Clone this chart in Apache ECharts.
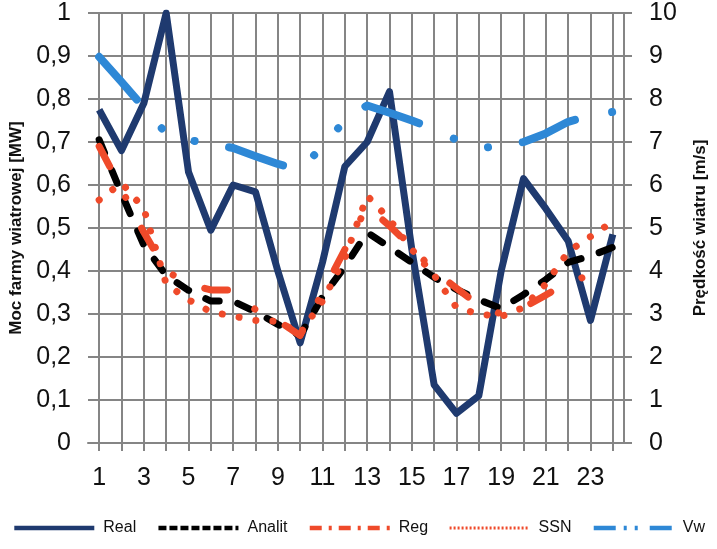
<!DOCTYPE html>
<html><head><meta charset="utf-8">
<script src="https://cdn.jsdelivr.net/npm/echarts@6/dist/echarts.min.js"></script>
<style>html,body{margin:0;padding:0;background:#fff}#c{width:717px;height:549px}</style>
</head><body><div id="c"></div>
<script>
const hours = ['1','2','3','4','5','6','7','8','9','10','11','12','13','14','15','16','17','18','19','20','21','22','23','24'];
const real   = [0.775,0.68,0.79,1.0,0.63,0.495,0.60,0.584,0.40,0.233,0.42,0.643,0.70,0.817,0.45,0.135,0.069,0.11,0.40,0.615,0.545,0.47,0.285,0.485];
const analit = [0.705,0.58,0.46,0.39,0.355,0.33,0.33,0.305,0.276,0.25,0.34,0.41,0.49,0.455,0.42,0.385,0.357,0.333,0.313,0.345,0.38,0.42,0.435,0.455];
const reg    = [0.69,0.59,0.49,0.40,0.37,0.356,0.356,0.31,0.285,0.25,0.35,0.45,0.55,0.505,0.455,0.40,0.36,0.32,0.30,0.315,0.344,0.375,0.39,0.40];
const ssn    = [0.565,0.605,0.545,0.37,0.333,0.305,0.295,0.285,0.283,0.255,0.33,0.43,0.575,0.52,0.45,0.39,0.315,0.30,0.294,0.315,0.37,0.445,0.48,0.515];
const vw     = [8.98,8.4,7.8,7.2,7.05,6.95,6.86,6.67,6.49,6.35,6.9,7.5,7.85,7.68,7.5,7.3,7.05,6.85,6.92,7.0,7.2,7.47,7.62,7.7];
const powerTicks = ['0','0,1','0,2','0,3','0,4','0,5','0,6','0,7','0,8','0,9','1'];
const windTicks  = ['0','1','2','3','4','5','6','7','8','9','10'];

const FONT = 'Liberation Sans, Arial, sans-serif';
const GRID = '#858585';
const NAVY = '#1f3a6f', RED = '#ef4a2a', BLUE = '#2e88d6';

const chart = echarts.init(document.getElementById('c'), null, {renderer:'canvas'});
chart.setOption({
  animation: false,
  backgroundColor: '#fff',
  textStyle: {fontFamily: FONT},
  grid: {left: 85, right: 92, top: 13, bottom: 106, containLabel: false},
  legend: {
    left: 'center', top: 520, itemWidth: 80, itemHeight: 20, itemGap: 20, padding: 0,
    itemStyle: {opacity: 0},
    textStyle: {fontSize: 16, color: '#111', fontFamily: FONT, padding: [0,0,0,4]},
    data: [
      {name: 'Real', lineStyle: {width: 4.5, type: 'solid'}},
      {name: 'Analit', lineStyle: {width: 4.5, type: [8,3], cap: 'butt'}},
      {name: 'Reg', lineStyle: {width: 4.5, type: [12,7,3,7], cap: 'butt'}},
      {name: 'SSN', lineStyle: {width: 3, type: [2,2], cap: 'butt'}},
      {name: 'Vw', lineStyle: {width: 4.5, type: [22,8,3,8,3,12], cap: 'butt'}}
    ]
  },
  xAxis: {
    type: 'category', data: hours, boundaryGap: true,
    axisLine: {show: true, lineStyle: {color: GRID, width: 2}},
    axisTick: {show: true, alignWithLabel: true, interval: 0, length: 8, lineStyle: {color: GRID, width: 2}},
    axisLabel: {interval: 1, fontSize: 25, color: '#111', margin: 23, fontFamily: FONT},
    splitLine: {show: true, interval: 0, alignWithLabel: true, lineStyle: {color: GRID, width: 2}}
  },
  yAxis: [
    {
      type: 'value', min: 0, max: 1, interval: 0.1, position: 'left',
      name: 'Moc farmy wiatrowej [MW]', nameLocation: 'middle', nameRotate: 90, nameGap: 63,
      nameTextStyle: {fontSize: 17, fontWeight: 'bold', color: '#111', fontFamily: FONT},
      axisLine: {show: false}, axisTick: {show: false},
      axisLabel: {fontSize: 25, color: '#111', margin: 17, fontFamily: FONT,
        formatter: v => powerTicks[Math.round(v * 10)]},
      splitLine: {show: true, lineStyle: {color: GRID, width: 2}}
    },
    {
      type: 'value', min: 0, max: 10, interval: 1, position: 'right',
      name: 'Prędkość wiatru [m/s]', nameLocation: 'middle', nameRotate: 90, nameGap: 68,
      nameTextStyle: {fontSize: 17, fontWeight: 'bold', color: '#111', fontFamily: FONT},
      axisLine: {show: true, lineStyle: {color: GRID, width: 2}},
      axisTick: {show: true, length: 8, lineStyle: {color: GRID, width: 2}},
      axisLabel: {fontSize: 25, color: '#111', margin: 25, fontFamily: FONT,
        formatter: v => windTicks[Math.round(v)]},
      splitLine: {show: false}
    }
  ],
  series: [
    {name: 'Real', type: 'line', data: real, symbol: 'none', color: NAVY,
     lineStyle: {color: NAVY, width: 7, join: 'round'}},
    {name: 'Analit', type: 'line', data: analit, symbol: 'none', color: '#000',
     lineStyle: {color: '#000', width: 7, type: [14, 19], cap: 'round', join: 'round'}},
    {name: 'Reg', type: 'line', data: reg, symbol: 'none', color: RED,
     lineStyle: {color: RED, width: 7, type: [23, 34.5, 0.1, 34.5], cap: 'round', join: 'round'}},
    {name: 'SSN', type: 'line', data: ssn, symbol: 'none', color: RED,
     lineStyle: {color: RED, width: 7, type: [0.1, 17], cap: 'round', join: 'round'}},
    {name: 'Vw', type: 'line', data: vw, yAxisIndex: 1, symbol: 'none', color: BLUE,
     lineStyle: {color: BLUE, width: 8, type: [57, 38, 0.1, 36, 0.1, 35], cap: 'round', join: 'round'}}
  ]
});
</script>
</body></html>
